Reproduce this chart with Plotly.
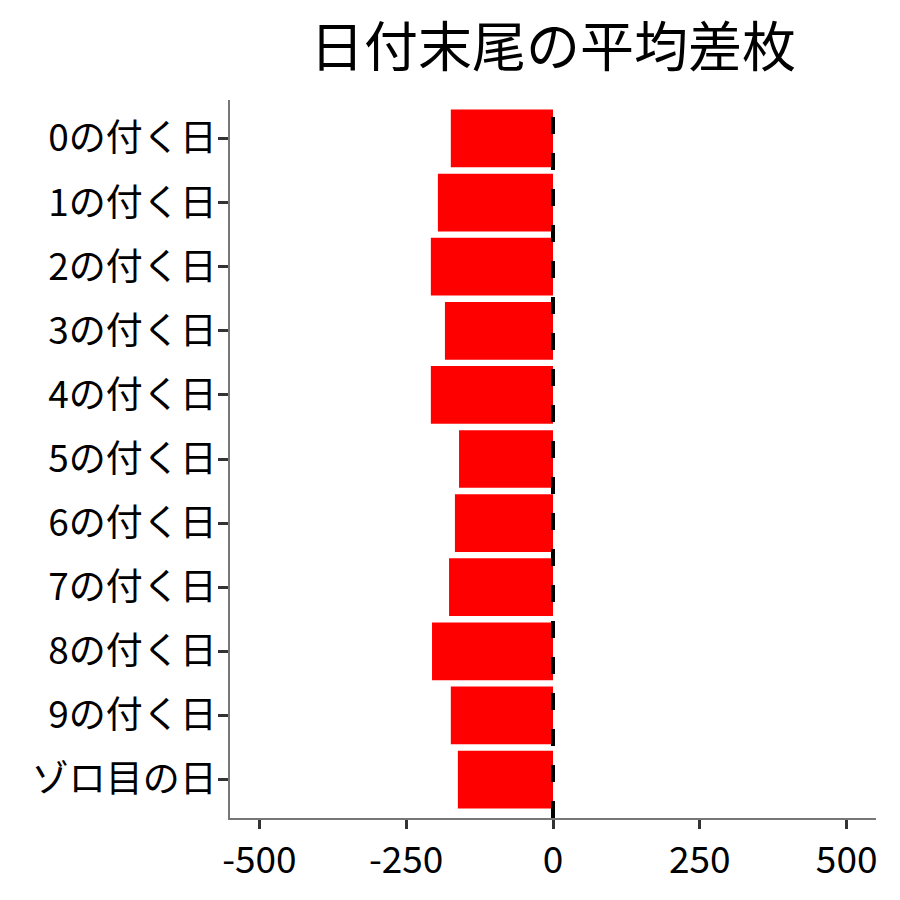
import plotly.graph_objects as go

days = ["0の付く日", "1の付く日", "2の付く日", "3の付く日", "4の付く日", "5の付く日",
        "6の付く日", "7の付く日", "8の付く日", "9の付く日", "ゾロ目の日"]
avg_diff = [-174, -196, -208, -184, -208, -160, -167, -177, -206, -174, -162]
x_ticks = [-500, -250, 0, 250, 500]

font = "Noto Sans CJK JP"

fig = go.Figure(go.Bar(
    x=avg_diff,
    y=days,
    orientation="h",
    marker=dict(color="#ff0000", line=dict(width=0)),
    width=0.9,
))

# dashed zero line
fig.add_shape(type="line", xref="x", yref="paper", x0=0, x1=0, y0=0, y1=1,
              line=dict(color="black", width=4, dash="17px,19px"))

# page body has an 8px margin, so margins are shifted a bit
fig.update_layout(
    width=900, height=900,
    plot_bgcolor="white", paper_bgcolor="white",
    margin=dict(l=222, r=32, t=92, b=90),
    font=dict(family=font, color="black"),
    title=dict(text="日付末尾の平均差枚", x=0.5, xref="paper", xanchor="center",
               y=1 - 40 / 900, yref="container", yanchor="middle",
               font=dict(size=54, family=font, color="black")),
    showlegend=False,
)
fig.update_xaxes(
    range=[-550, 550], tickvals=x_ticks, ticktext=[str(v) for v in x_ticks],
    showgrid=False, zeroline=False,
    showline=True, linecolor="#777777", linewidth=1.5,
    ticks="outside", ticklen=9, tickwidth=3, tickcolor="#333333",
    tickfont=dict(size=37, family=font, color="black"),
)
fig.update_yaxes(
    categoryorder="array", categoryarray=days, range=[10.6, -0.6],
    showgrid=False, zeroline=False,
    showline=True, linecolor="#777777", linewidth=1.5,
    ticks="outside", ticklen=10, tickwidth=3, tickcolor="#333333",
    ticklabelstandoff=-6,
    tickfont=dict(size=37, family=font, color="black"),
)

fig.write_html("out.html")
